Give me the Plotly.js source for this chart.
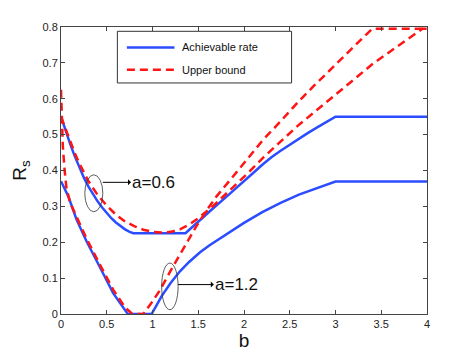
<!DOCTYPE html>
<html>
<head>
<meta charset="utf-8">
<script src="https://cdn.plot.ly/plotly-3.0.1.min.js"></script>
<style>
  html, body { margin: 0; padding: 0; background: #fff; }
  #plot { width: 471px; height: 354px; }
</style>
</head>
<body>
<div id="plot"></div>
<script>
// achievable rate, a = 0.6
var bAch06 = [0, 0.05, 0.1, 0.15, 0.2, 0.25, 0.3, 0.35, 0.4, 0.45, 0.5, 0.55, 0.6, 0.65, 0.7, 0.75, 0.79,
              1.36, 1.5, 1.66, 1.8, 1.9, 2.0, 2.1, 2.2, 2.3, 2.4, 2.5, 2.6, 2.7, 2.8, 2.9, 3.0, 4.0];
var ach06 = [0.55, 0.51, 0.474, 0.44, 0.408, 0.38, 0.355, 0.334, 0.314, 0.297, 0.281, 0.267, 0.255, 0.245, 0.236, 0.229, 0.225,
             0.225, 0.258, 0.294, 0.325, 0.347, 0.37, 0.393, 0.416, 0.437, 0.455, 0.472, 0.489, 0.505, 0.52, 0.535, 0.55, 0.55];

// achievable rate, a = 1.2
var bAch12 = [0, 0.08, 0.17, 0.28, 0.42, 0.57, 0.73, 0.99, 1.05, 1.1, 1.2, 1.3, 1.4, 1.52, 1.62, 1.72, 1.85,
              2.0, 2.2, 2.4, 2.6, 2.8, 3.0, 4.0];
var ach12 = [0.37, 0.328, 0.263, 0.202, 0.133, 0.058, 0, 0, 0.027, 0.05, 0.087, 0.119, 0.145, 0.172, 0.191, 0.208, 0.23,
             0.254, 0.284, 0.31, 0.333, 0.352, 0.369, 0.369];

// upper bound, a = 0.6
var bUb06 = [0, 0.05, 0.1, 0.15, 0.2, 0.3, 0.4, 0.5, 0.6, 0.7, 0.8, 0.9, 1.0, 1.1, 1.2, 1.3, 1.4, 1.5, 1.65, 1.85,
             2.04, 2.21, 2.4, 2.58, 2.76, 2.94, 3.1, 3.25, 3.41, 3.6, 3.78, 3.95, 4.0];
var ub06 = [0.55, 0.515, 0.48, 0.449, 0.42, 0.37, 0.332, 0.302, 0.277, 0.258, 0.245, 0.235, 0.229, 0.227, 0.229, 0.236, 0.249, 0.267, 0.298, 0.345,
            0.392, 0.436, 0.482, 0.523, 0.561, 0.598, 0.632, 0.664, 0.698, 0.733, 0.765, 0.795, 0.795];

// upper bound, a = 1.2
var bUb12 = [0, 0.01, 0.02, 0.04, 0.06, 0.1, 0.17, 0.28, 0.42, 0.57, 0.7, 0.78, 0.9, 0.95, 1.0, 1.08, 1.15, 1.23, 1.31, 1.39,
             1.48, 1.6, 1.7, 1.85, 2.03, 2.21, 2.4, 2.58, 2.76, 2.94, 3.12, 3.25, 3.4, 4.0];
var ub12 = [0.625, 0.53, 0.467, 0.40, 0.35, 0.31, 0.27, 0.21, 0.14, 0.068, 0.018, 0, 0, 0.017, 0.035, 0.066, 0.1, 0.135, 0.17, 0.205,
            0.245, 0.292, 0.328, 0.374, 0.43, 0.486, 0.537, 0.588, 0.635, 0.68, 0.727, 0.76, 0.795, 0.795];

var legendNames = ['Achievable rate', 'Upper bound'];
var curveLabels = ['a=0.6', 'a=1.2'];

var blue = '#2b4cff';
var red = '#ff1414';
var font = 'Liberation Sans, Arial, sans-serif';

function curve(x, y, color, dash) {
  return {
    x: x, y: y, mode: 'lines', type: 'scatter',
    line: {color: color, width: 2.5, dash: dash},
    cliponaxis: false, showlegend: false, hoverinfo: 'skip'
  };
}

var data = [
  curve(bAch06, ach06, blue, 'solid'),
  curve(bAch12, ach12, blue, 'solid'),
  curve(bUb06, ub06, red, '8px,5px'),
  curve(bUb12, ub12, red, '8px,5px')
];

var axisStyle = {
  showline: true, mirror: 'ticks', linecolor: '#444', linewidth: 1,
  ticks: 'inside', ticklen: 4, tickcolor: '#444',
  showgrid: false, zeroline: false,
  tickfont: {family: font, size: 11, color: '#222'}
};

// label with an arrow pointing at it from the ellipse
function pointer(label, x0, y0, xText) {
  return {
    xref: 'x', yref: 'y', axref: 'x', ayref: 'y',
    x: x0, y: y0, ax: xText, ay: y0, xanchor: 'left', yanchor: 'middle',
    text: label, showarrow: true, arrowside: 'start', arrowhead: 2, arrowsize: 1.5,
    arrowwidth: 1, arrowcolor: '#000', borderpad: 0,
    font: {family: font, size: 17, color: '#111'}
  };
}

var layout = {
  width: 471, height: 354,
  margin: {l: 61, r: 44, t: 27, b: 40},
  paper_bgcolor: '#fff', plot_bgcolor: '#fff',
  showlegend: false,
  xaxis: Object.assign({}, axisStyle, {
    range: [0, 4], dtick: 0.5,
    title: {text: 'b', font: {family: font, size: 19, color: '#111'}, standoff: 4}
  }),
  yaxis: Object.assign({}, axisStyle, {
    range: [0, 0.8], dtick: 0.1,
    title: {text: 'R<sub>s</sub>', font: {family: font, size: 19, color: '#111'}, standoff: 10}
  }),
  shapes: [
    // legend box
    {type: 'rect', xref: 'paper', yref: 'paper', x0: 0.154, x1: 0.630, y0: 0.805, y1: 0.985,
     line: {color: '#333', width: 1}, fillcolor: '#fff'},
    {type: 'line', xref: 'paper', yref: 'paper', x0: 0.18, x1: 0.31, y0: 0.929, y1: 0.929,
     line: {color: blue, width: 2.5}},
    {type: 'line', xref: 'paper', yref: 'paper', x0: 0.18, x1: 0.31, y0: 0.851, y1: 0.851,
     line: {color: red, width: 2.5, dash: '8px,5px'}},
    // ellipses marking the curve pairs
    {type: 'circle', xref: 'x', yref: 'y', x0: 0.26, x1: 0.457, y0: 0.285, y1: 0.388,
     line: {color: '#333', width: 0.8}},
    {type: 'circle', xref: 'x', yref: 'y', x0: 1.10, x1: 1.28, y0: 0.012, y1: 0.142,
     line: {color: '#333', width: 0.8}}
  ],
  annotations: [
    {xref: 'paper', yref: 'paper', x: 0.325, y: 0.929, xanchor: 'left', yanchor: 'middle',
     text: legendNames[0], showarrow: false, font: {family: font, size: 11, color: '#111'}},
    {xref: 'paper', yref: 'paper', x: 0.325, y: 0.851, xanchor: 'left', yanchor: 'middle',
     text: legendNames[1], showarrow: false, font: {family: font, size: 11, color: '#111'}},
    pointer(curveLabels[0], 0.457, 0.367, 0.765),
    pointer(curveLabels[1], 1.28, 0.082, 1.67)
  ]
};

Plotly.newPlot('plot', data, layout, {staticPlot: true, displayModeBar: false});
</script>
</body>
</html>
